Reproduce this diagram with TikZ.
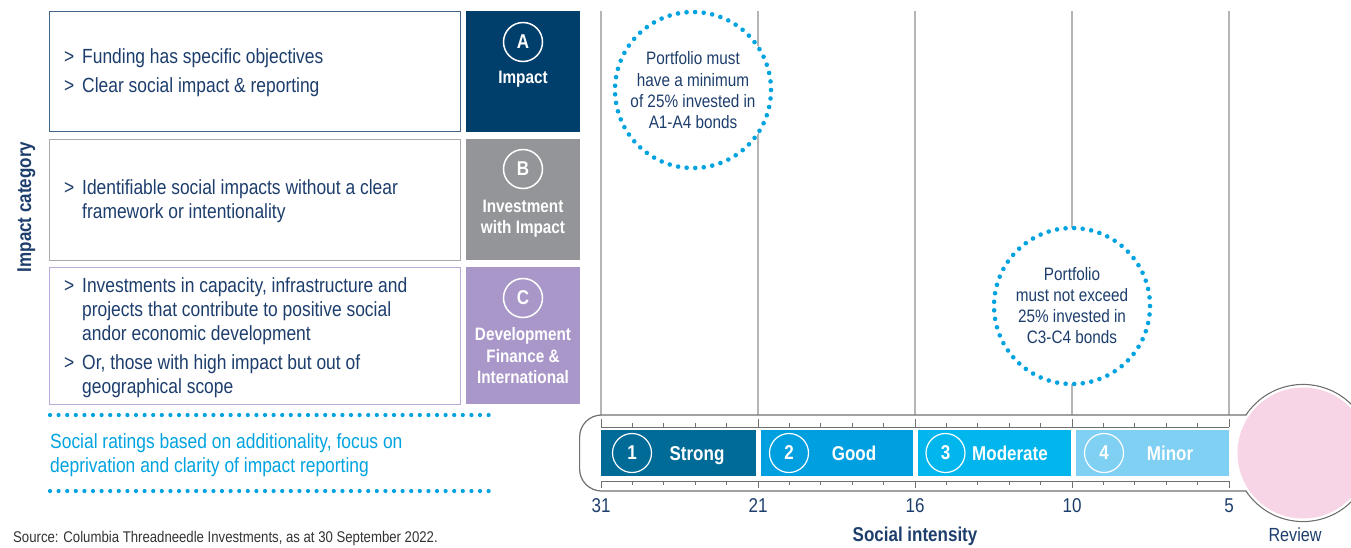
\documentclass[tikz,border=0pt]{standalone}
\usepackage{fontspec}
\setmainfont{Liberation Sans}[FakeStretch=0.85]
\definecolor{navy}{HTML}{1D3E6C}
\definecolor{boxA}{HTML}{3F6488}
\definecolor{boxB}{HTML}{A7A9AC}
\definecolor{boxC}{HTML}{B9A9D9}
\definecolor{sqA}{HTML}{003E6B}
\definecolor{sqB}{HTML}{939598}
\definecolor{sqC}{HTML}{A897C8}
\definecolor{cyanc}{HTML}{00A3E0}
\definecolor{vgray}{HTML}{B5B5B5}
\definecolor{tgray}{HTML}{707070}
\definecolor{barA}{HTML}{006B97}
\definecolor{barB}{HTML}{009FE0}
\definecolor{barC}{HTML}{00B6EC}
\definecolor{barD}{HTML}{80D0F3}
\definecolor{pinkc}{HTML}{F7D5E6}
\definecolor{srcc}{HTML}{333333}
\newcommand\gtbul{\makebox[18pt][l]{>}}
\begin{document}
\begin{tikzpicture}[x=1pt,y=-1pt,
  body/.style={anchor=base west, inner sep=0pt, text=navy, font=\fontsize{20.5}{24}\selectfont},
  cyantext/.style={anchor=base west, inner sep=0pt, text=cyanc, font=\fontsize{20.5}{24}\selectfont},
  catbox/.style={draw=#1, line width=1.4pt, fill=white, anchor=north west, minimum width=411pt, inner sep=0pt},
  catsq/.style={fill=#1, anchor=north west, minimum width=114pt, inner sep=0pt},
  letter/.style={circle, draw=white, line width=1.5pt, minimum size=39pt, inner sep=0pt, text=white, font=\bfseries\fontsize{20}{20}\selectfont},
  sqlbl/.style={anchor=base, inner sep=0pt, text=white, font=\bfseries\fontsize{18}{18}\selectfont},
  vline/.style={draw=vgray, line width=2pt},
  dotcirc/.style={circle, draw=cyanc, fill=white, line width=4.6pt, dash pattern=on 0pt off 8.6pt, line cap=round, minimum size=156pt, inner sep=0pt},
  circtext/.style={anchor=base, inner sep=0pt, text=navy, font=\fontsize{18}{18}\selectfont},
  dotline/.style={draw=cyanc, line width=4.2pt, dash pattern=on 0pt off 8.6pt, line cap=round},
  bar/.style={fill=#1, anchor=west, minimum height=46pt, inner sep=0pt},
  numc/.style={circle, draw=white, line width=1.2pt, minimum size=39pt, inner sep=0pt, text=white, font=\bfseries\fontsize{20}{20}\selectfont},
  barlbl/.style={anchor=base, inner sep=0pt, text=white, font=\bfseries\fontsize{20}{20}\selectfont},
  axnum/.style={anchor=base, inner sep=0pt, text=navy, font=\fontsize{20}{20}\selectfont},
  tick/.style={draw=tgray, line width=1pt}
]
\useasboundingbox (0,0) rectangle (1351,547);

% category boxes
\node[catbox=boxA, minimum height=120pt] (boxa) at (49,11) {};
\node[catbox=boxB, minimum height=121pt] (boxb) at (49,139) {};
\node[catbox=boxC, minimum height=137pt] (boxc) at (49,267) {};
\node[catsq=sqA, minimum height=121pt] (sqa) at (466,11) {};
\node[catsq=sqB, minimum height=121pt] (sqb) at (466,139) {};
\node[catsq=sqC, minimum height=137pt] (sqc) at (466,267) {};

\node[letter] (la) at (523,42) {A};
\node[sqlbl] (ta) at (523,83) {Impact};
\node[letter] (lb) at (523,169) {B};
\node[sqlbl] (tb1) at (523,212.7) {Investment};
\node[sqlbl] (tb2) at (523,233) {with Impact};
\node[letter] (lc) at (523,298) {C};
\node[sqlbl] (tc1) at (523,340.7) {Development};
\node[sqlbl] (tc2) at (523,362) {Finance \&};
\node[sqlbl] (tc3) at (523,383.3) {International};

\node[body] (a1) at (64,63) {\gtbul Funding has specific objectives};
\node[body] (a2) at (64,92) {\gtbul Clear social impact \& reporting};
\node[body] (b1) at (64,194) {\gtbul Identifiable social impacts without a clear};
\node[body] (b2) at (82,218) {framework or intentionality};
\node[body] (c1) at (64,292) {\gtbul Investments in capacity, infrastructure and};
\node[body] (c2) at (82,316) {projects that contribute to positive social};
\node[body] (c3) at (82,340) {andor economic development};
\node[body] (c4) at (64,369) {\gtbul Or, those with high impact but out of};
\node[body] (c5) at (82,393) {geographical scope};

\node[anchor=base, rotate=90, inner sep=0pt, text=navy, font=\bfseries\fontsize{20}{20}\selectfont] (cat) at (31,207) {Impact category};

% cyan note
\coordinate (d1a) at (50,415); \coordinate (d1b) at (491,415);
\coordinate (d2a) at (50,491); \coordinate (d2b) at (491,491);
\draw[dotline] (d1a) -- (d1b);
\draw[dotline] (d2a) -- (d2b);
\node[cyantext] (n1) at (50,448) {Social ratings based on additionality, focus on};
\node[cyantext] (n2) at (50,472) {deprivation and clarity of impact reporting};

\node[anchor=base west, inner sep=0pt, text=srcc, font=\fontsize{15.5}{16}\selectfont] (src) at (13,542) {Source: Columbia Threadneedle Investments, as at 30 September 2022.};

% vertical grid lines
\foreach \x/\n in {601/g1,758/g2,915/g3,1072/g4,1229/g5}{
  \coordinate (\n t) at (\x,11);
  \coordinate (\n b) at (\x,415);
  \draw[vline] (\n t) -- (\n b);
}

% dotted circles
\node[dotcirc] (circ1) at (693,90) {};
\node[circtext] (p1) at (693,64) {Portfolio must};
\node[circtext] (p2) at (693,86) {have a minimum};
\node[circtext] (p3) at (693,107) {of 25\% invested in};
\node[circtext] (p4) at (693,128) {A1-A4 bonds};
\node[dotcirc] (circ2) at (1072,306) {};
\node[circtext] (q1) at (1072,280) {Portfolio};
\node[circtext] (q2) at (1072,301) {must not exceed};
\node[circtext] (q3) at (1072,322.5) {25\% invested in};
\node[circtext] (q4) at (1072,343) {C3-C4 bonds};

% thermometer
\node[circle, draw=tgray, fill=white, line width=1.2pt, minimum size=137pt, inner sep=0pt] (bulbout) at (1303,453) {};
\node[draw=tgray, fill=white, line width=1.2pt, rounded corners=22pt, minimum width=711pt, minimum height=76pt, anchor=west, inner sep=0pt] (tube) at (579,453) {};
\node[circle, fill=white, minimum size=135.4pt, inner sep=0pt] (bulbmask) at (1303,453) {};
\node[circle, fill=pinkc, minimum size=131pt, inner sep=0pt] (bulb) at (1303,453) {};

% axes with ticks
\coordinate (axtl) at (601,427); \coordinate (axtr) at (1229,427);
\coordinate (axbl) at (601,481); \coordinate (axbr) at (1229,481);
\draw[tick] (axtl) -- (axtr);
\draw[tick] (axbl) -- (axbr);
\foreach \i in {0,...,20}{
  \pgfmathsetmacro\xx{601+\i*31.4}
  \pgfmathtruncatemacro\mm{mod(\i,5)}
  \ifnum\mm=0
    \draw[tick] (\xx,419) -- (\xx,427);
    \draw[tick] (\xx,481) -- (\xx,488);
  \else
    \draw[tick] (\xx,423) -- (\xx,427);
    \draw[tick] (\xx,481) -- (\xx,485);
  \fi
}

% bars
\node[bar=barA, minimum width=155pt] (bar1) at (601,453) {};
\node[bar=barB, minimum width=152pt] (bar2) at (761,453) {};
\node[bar=barC, minimum width=152.5pt] (bar3) at (918,453) {};
\node[bar=barD, minimum width=153.5pt] (bar4) at (1075.5,453) {};
\node[numc] (k1) at (632,453) {1};
\node[barlbl] (s1) at (697,460.5) {Strong};
\node[numc] (k2) at (789,453) {2};
\node[barlbl] (s2) at (854,460.5) {Good};
\node[numc] (k3) at (945.5,453) {3};
\node[barlbl] (s3) at (1010,460.5) {Moderate};
\node[numc] (k4) at (1104,453) {4};
\node[barlbl] (s4) at (1170,460.5) {Minor};

% axis numbers
\node[axnum] (x31) at (601,512) {31};
\node[axnum] (x21) at (758,512) {21};
\node[axnum] (x16) at (915,512) {16};
\node[axnum] (x10) at (1072,512) {10};
\node[axnum] (x5) at (1229,512) {5};
\node[anchor=base, inner sep=0pt, text=navy, font=\bfseries\fontsize{20}{20}\selectfont] (si) at (915,541) {Social intensity};
\node[anchor=base, inner sep=0pt, text=navy, font=\fontsize{19}{19}\selectfont] (rev) at (1295,541) {Review};
\end{tikzpicture}
\end{document}
